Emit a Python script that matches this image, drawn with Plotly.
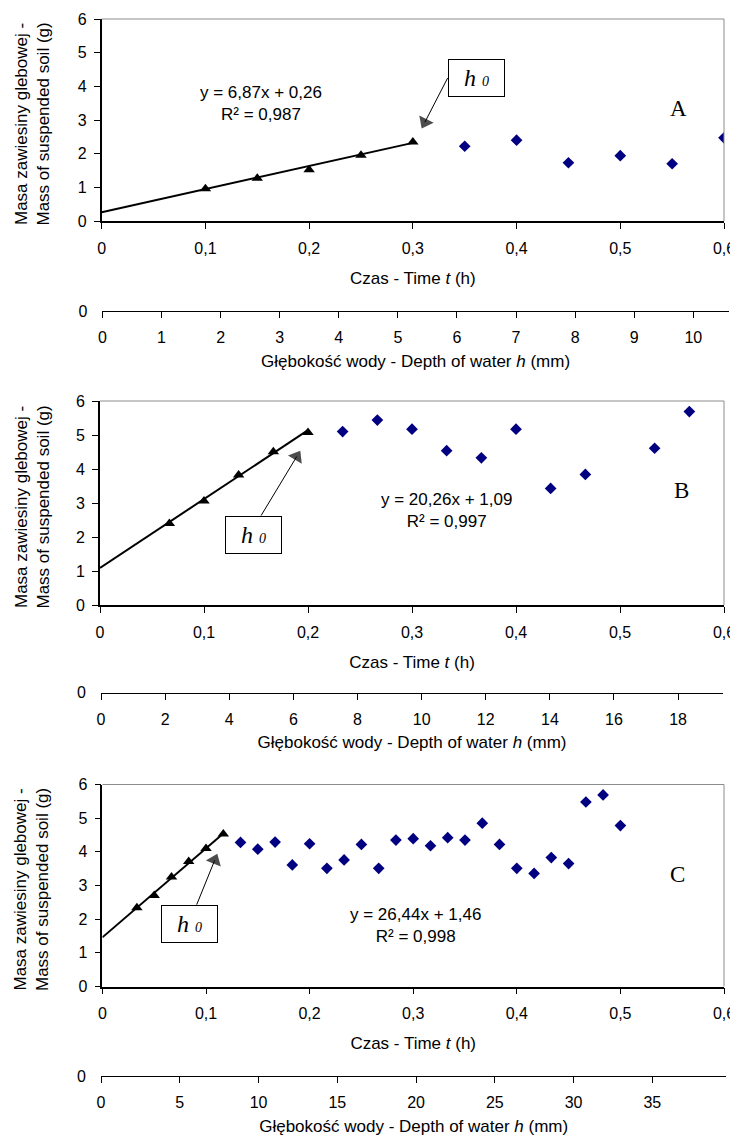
import plotly.graph_objects as go

# ---------------- data ----------------
# Panel A
time_A_fit = [0.10, 0.15, 0.20, 0.25, 0.30]
mass_A_fit = [0.96, 1.27, 1.52, 1.95, 2.35]
time_A_rest = [0.35, 0.40, 0.45, 0.50, 0.55, 0.60]
mass_A_rest = [2.22, 2.40, 1.73, 1.94, 1.70, 2.47]
fit_A = (6.87, 0.26)          # slope, intercept
fit_A_xend = 0.30

# Panel B
time_B_fit = [0.0667, 0.1000, 0.1333, 0.1667, 0.2000]
mass_B_fit = [2.40, 3.06, 3.82, 4.51, 5.07]
time_B_rest = [0.2333, 0.2667, 0.3000, 0.3333, 0.3667, 0.4000, 0.4333, 0.4667, 0.5333, 0.5667]
mass_B_rest = [5.10, 5.44, 5.17, 4.54, 4.33, 5.17, 3.43, 3.84, 4.61, 5.69]
fit_B = (20.26, 1.09)
fit_B_xend = 0.20

# Panel C
time_C_fit = [0.0333, 0.0500, 0.0667, 0.0833, 0.1000, 0.1167]
mass_C_fit = [2.34, 2.70, 3.25, 3.71, 4.10, 4.53]
time_C_rest = [0.1333, 0.1500, 0.1667, 0.1833, 0.2000, 0.2167, 0.2333, 0.2500, 0.2667,
               0.2833, 0.3000, 0.3167, 0.3333, 0.3500, 0.3667, 0.3833, 0.4000, 0.4167,
               0.4333, 0.4500, 0.4667, 0.4833, 0.5000]
mass_C_rest = [4.28, 4.08, 4.29, 3.61, 4.24, 3.51, 3.76, 4.22, 3.51,
               4.35, 4.39, 4.18, 4.42, 4.35, 4.85, 4.22, 3.51, 3.36,
               3.83, 3.65, 5.48, 5.69, 4.78]
fit_C = (26.44, 1.46)
fit_C_xend = 0.1167

# tick labels
time_ticks = [0, 0.1, 0.2, 0.3, 0.4, 0.5, 0.6]
time_ticktext = ["0", "0,1", "0,2", "0,3", "0,4", "0,5", "0,6"]
mass_ticks = [0, 1, 2, 3, 4, 5, 6]
depth_ticks_A = [0, 1, 2, 3, 4, 5, 6, 7, 8, 9, 10]
depth_ticks_B = [0, 2, 4, 6, 8, 10, 12, 14, 16, 18]
depth_ticks_C = [0, 5, 10, 15, 20, 25, 30, 35]
depth_max = {"A": 10.6, "B": 19.4, "C": 39.7}

eq_text = {
    "A": "y = 6,87x + 0,26<br>R² = 0,987",
    "B": "y = 20,26x + 1,09<br>R² = 0,997",
    "C": "y = 26,44x + 1,46<br>R² = 0,998",
}
y_title = "Masa zawiesiny glebowej -<br>Mass of suspended soil (g)"

# ---------------- layout geometry ----------------
# The page body has an 8px margin, so the figure is offset by OFF inside the window.
OFF = 8
W, H = 738 - OFF, 1138 - OFF
SANS = "Liberation Sans, Arial, sans-serif"
SERIF = "Liberation Serif, Times New Roman, serif"
TICKF = dict(family=SANS, size=16, color="black")
TITLEF = dict(family=SANS, size=17, color="black")

# pixel positions in the window
panels = {
    "A": dict(mx=(101.7, 724), my=(221, 19), sy=311, sx=(102.4, 728.8)),
    "B": dict(mx=(100, 724), my=(605, 401), sy=692.7, sx=(101, 723)),
    "C": dict(mx=(102.4, 724), my=(986.5, 784.5), sy=1076, sx=(101, 726.4)),
}


def fx(px):
    return (px - OFF) / W


def fy(py):
    return 1 - (py - OFF) / H


fig = go.Figure()


def add_panel(idx, lab_idx, name, tf, mf, tr, mr, fit, xend, dticks, eq_pos, lab_pos, box_pos,
              arr_tail, arr_head):
    p = panels[name]
    mainx = "x" if idx == 1 else f"x{idx}"
    mainy = "y" if idx == 1 else f"y{idx}"
    secx = f"x{idx+1}"
    secy = f"y{idx+1}"
    laby = f"y{lab_idx}"
    lx = "xaxis" if idx == 1 else f"xaxis{idx}"
    ly = "yaxis" if idx == 1 else f"yaxis{idx}"

    # regression line
    fig.add_trace(go.Scatter(x=[0, xend], y=[fit[1], fit[0] * xend + fit[1]], mode="lines",
                             line=dict(color="black", width=2), xaxis=mainx, yaxis=mainy,
                             showlegend=False, hoverinfo="skip"))
    fig.add_trace(go.Scatter(x=tf, y=mf, mode="markers",
                             marker=dict(symbol="triangle-up", size=10, color="black"),
                             xaxis=mainx, yaxis=mainy, showlegend=False))
    fig.add_trace(go.Scatter(x=tr, y=mr, mode="markers",
                             marker=dict(symbol="diamond", size=9, color="#000080"),
                             xaxis=mainx, yaxis=mainy, showlegend=False))
    # h0 arrow (line with a triangular head pointing along the segment)
    fig.add_trace(go.Scatter(x=[arr_tail[0], arr_head[0]], y=[arr_tail[1], arr_head[1]],
                             mode="lines+markers", line=dict(color="black", width=1),
                             marker=dict(symbol=["circle", "triangle-up"], size=[0, 14], color="black",
                                         angleref="previous", standoff=[0, 7], line=dict(width=0)),
                             xaxis=mainx, yaxis=mainy, showlegend=False, hoverinfo="skip"))
    fig.add_trace(go.Scatter(x=[], y=[], xaxis=secx, yaxis=secy, showlegend=False))
    fig.add_trace(go.Scatter(x=[], y=[], xaxis=mainx, yaxis=laby, showlegend=False))

    ydom = [fy(p["my"][0]), fy(p["my"][1])]
    fig.update_layout(**{
        lx: dict(domain=[fx(p["mx"][0]), fx(p["mx"][1])], anchor=mainy, automargin=False,
                 range=[0, 0.6], tickvals=time_ticks, ticktext=time_ticktext,
                 ticks="outside", ticklen=6, tickcolor="black", tickwidth=1,
                 showline=True, linecolor="black", linewidth=1.5, showgrid=False, zeroline=False,
                 tickfont=TICKF, ticklabelstandoff=6,
                 title=dict(text="Czas - Time <i>t</i> (h)", font=TITLEF, standoff=16)),
        # main y axis: line + tick marks
        ly: dict(domain=ydom, anchor=mainx, automargin=False,
                 range=[0, 6], tickvals=mass_ticks, showticklabels=False,
                 ticks="outside", ticklen=6, tickcolor="black", tickwidth=1,
                 showline=True, linecolor="black", linewidth=1.5, showgrid=False, zeroline=False),
        # same y scale carrying the tick labels
        f"yaxis{lab_idx}": dict(domain=ydom, anchor=mainx, overlaying=mainy, side="left",
                                automargin=False, range=[0, 6], tickvals=mass_ticks, ticks="",
                                showline=False, showgrid=False, zeroline=False,
                                tickfont=TICKF, ticklabelstandoff=14),
        f"xaxis{idx+1}": dict(domain=[fx(p["sx"][0]), fx(p["sx"][1])], anchor=secy, automargin=False,
                              range=[0, depth_max[name]], tickvals=dticks,
                              ticks="outside", ticklen=6, tickcolor="black", tickwidth=1,
                              showline=True, linecolor="black", linewidth=1.2,
                              showgrid=False, zeroline=False, tickfont=TICKF, ticklabelstandoff=6,
                              title=dict(text="Głębokość wody - Depth of water <i>h</i> (mm)",
                                         font=TITLEF, standoff=9)),
        f"yaxis{idx+1}": dict(domain=[fy(p["sy"]), fy(p["sy"]) + 0.02], anchor=secx,
                              automargin=False,
                              range=[0, 1], tickvals=[0], ticktext=["0"], ticks="",
                              showline=False, showgrid=False, zeroline=False,
                              tickfont=TICKF, ticklabelstandoff=14),
    })

    # y-axis title (two lines, rotated)
    fig.add_annotation(x=fx(31.5), y=fy((p["my"][0] + p["my"][1]) / 2 + 4), xref="paper", yref="paper",
                       text=y_title, textangle=-90, showarrow=False, font=TITLEF,
                       xanchor="center", yanchor="middle", align="center")

    # gray top / right border of plot area
    for (x0, y0, x1, y1) in [(0, 1, 1, 1), (1, 0, 1, 1)]:
        fig.add_shape(type="line", xref=f"{mainx} domain", yref=f"{mainy} domain",
                      x0=x0, y0=y0, x1=x1, y1=y1, line=dict(color="#8c8c8c", width=1))

    # equation
    fig.add_annotation(x=eq_pos[0], y=eq_pos[1], xref=mainx, yref=mainy, text=eq_text[name],
                       showarrow=False, font=dict(family=SANS, size=17, color="black"),
                       align="center", xanchor="center", yanchor="middle")
    # panel letter
    fig.add_annotation(x=lab_pos[0], y=lab_pos[1], xref=mainx, yref=mainy, text=name,
                       showarrow=False, font=dict(family=SERIF, size=23, color="black"),
                       xanchor="center", yanchor="middle")
    # h0 box
    fig.add_annotation(x=box_pos[0], y=box_pos[1], xref=mainx, yref=mainy,
                       text="<i>h <span style='font-size:14px'>0</span></i>",
                       showarrow=False, font=dict(family=SERIF, size=24, color="black"),
                       bordercolor="black", borderwidth=1, borderpad=0, bgcolor="white",
                       width=55, height=36, xanchor="center", yanchor="middle")


add_panel(1, 7, "A", time_A_fit, mass_A_fit, time_A_rest, mass_A_rest, fit_A, fit_A_xend,
          depth_ticks_A, eq_pos=(0.1536, 3.49), lab_pos=(0.5566, 3.33),
          box_pos=(0.3609, 4.25), arr_tail=(0.3336, 4.25), arr_head=(0.3085, 2.75))
add_panel(3, 8, "B", time_B_fit, mass_B_fit, time_B_rest, mass_B_rest, fit_B, fit_B_xend,
          depth_ticks_B, eq_pos=(0.333, 2.79), lab_pos=(0.559, 3.36),
          box_pos=(0.148, 2.06), arr_tail=(0.1549, 2.63), arr_head=(0.1926, 4.54))
add_panel(5, 9, "C", time_C_fit, mass_C_fit, time_C_rest, mass_C_rest, fit_C, fit_C_xend,
          depth_ticks_C, eq_pos=(0.302, 1.81), lab_pos=(0.555, 3.33),
          box_pos=(0.0841, 1.85), arr_tail=(0.0910, 2.43), arr_head=(0.1109, 3.94))

fig.update_layout(width=W, height=H, margin=dict(l=0, r=0, t=0, b=0), template="none",
                  paper_bgcolor="white", plot_bgcolor="white", showlegend=False,
                  font=dict(family=SANS, color="black"))

fig.write_html("out.html")
